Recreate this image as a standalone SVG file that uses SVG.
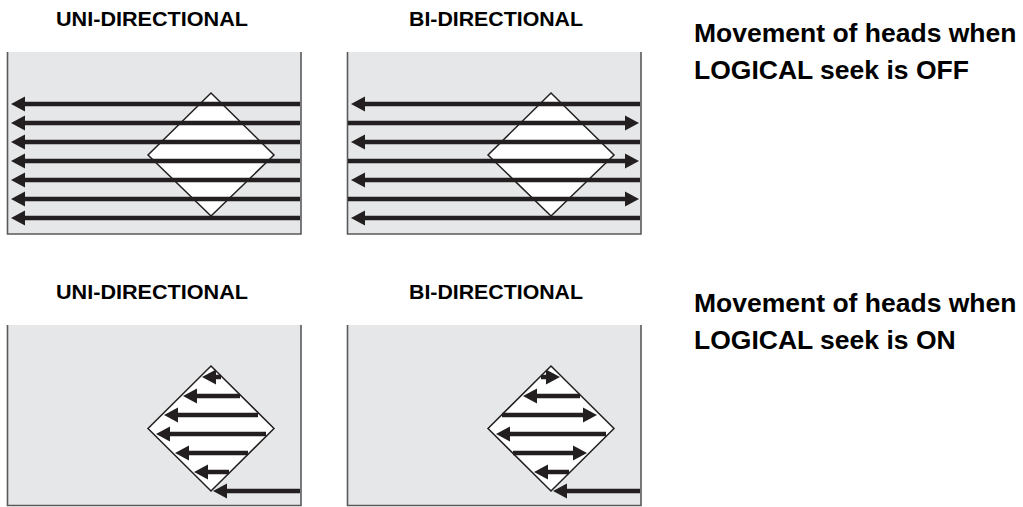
<svg xmlns="http://www.w3.org/2000/svg" width="1023" height="507" viewBox="0 0 1023 507">
<style>
.bg{fill:#e6e7e8}
.frame{fill:none;stroke:#58595b;stroke-width:1.6}
.dia{fill:#ffffff;stroke:#231f20;stroke-width:1.5;stroke-linejoin:miter}
.arr{stroke:#231f20;stroke-width:4.5;fill:none;marker-end:url(#ah)}
.lbl{font-family:"Liberation Sans",Arial,sans-serif;font-weight:bold;font-size:21px;fill:#000}
.cap{font-family:"Liberation Sans",Arial,sans-serif;font-weight:bold;font-size:26.5px;fill:#000}
</style>
<defs>
<marker id="ah" markerUnits="userSpaceOnUse" viewBox="0 0 14 15" refX="1" refY="7.5" markerWidth="14" markerHeight="15" orient="auto" overflow="visible">
<path d="M0,0 L14,7.5 L0,15 z" fill="#231f20"/>
</marker>
</defs>

<g id="label-uni-off"><text class="lbl" x="152" y="26" text-anchor="middle" textLength="192" lengthAdjust="spacingAndGlyphs">UNI-DIRECTIONAL</text></g>
<g id="label-bi-off"><text class="lbl" x="496" y="26" text-anchor="middle" textLength="174" lengthAdjust="spacingAndGlyphs">BI-DIRECTIONAL</text></g>
<g id="caption-off"><text class="cap" x="694" y="42">Movement of heads when</text><text class="cap" x="694" y="79">LOGICAL seek is OFF</text></g>

<g id="label-uni-on"><text class="lbl" x="152" y="299" text-anchor="middle" textLength="192" lengthAdjust="spacingAndGlyphs">UNI-DIRECTIONAL</text></g>
<g id="label-bi-on"><text class="lbl" x="496" y="299" text-anchor="middle" textLength="174" lengthAdjust="spacingAndGlyphs">BI-DIRECTIONAL</text></g>
<g id="caption-on"><text class="cap" x="694" y="312">Movement of heads when</text><text class="cap" x="694" y="349">LOGICAL seek is ON</text></g>

<g id="panel-uni-off">
<rect class="bg" x="7.5" y="52" width="293.5" height="182"/>
<path class="frame" d="M7.5,52 V234 H301 V52"/>
<polygon class="dia" points="211,93 274,155 211,216 148,155"/>
</g>
<g id="panel-bi-off">
<rect class="bg" x="347.5" y="52" width="293.5" height="182"/>
<path class="frame" d="M347.5,52 V234 H641 V52"/>
<polygon class="dia" points="551,93 614,155 551,216 488,155"/>
</g>
<g id="panel-uni-on">
<rect class="bg" x="7.5" y="325" width="293.5" height="181"/>
<path class="frame" d="M7.5,325 V505.5 H301 V325"/>
<polygon class="dia" points="211,366 274,428.5 211,491 148,428.5"/>
</g>
<g id="panel-bi-on">
<rect class="bg" x="347.5" y="325" width="293.5" height="181"/>
<path class="frame" d="M347.5,325 V505.5 H641 V325"/>
<polygon class="dia" points="551,366 614,428.5 551,491 488,428.5"/>
</g>

<g id="connectors">
<!-- top uni -->
<line class="arr" x1="300" y1="104" x2="24" y2="104"/>
<line class="arr" x1="300" y1="123" x2="24" y2="123"/>
<line class="arr" x1="300" y1="142" x2="24" y2="142"/>
<line class="arr" x1="300" y1="161" x2="24" y2="161"/>
<line class="arr" x1="300" y1="180" x2="24" y2="180"/>
<line class="arr" x1="300" y1="199" x2="24" y2="199"/>
<line class="arr" x1="300" y1="218" x2="24" y2="218"/>
<!-- top bi -->
<line class="arr" x1="640" y1="104" x2="364" y2="104"/>
<line class="arr" x1="348" y1="123" x2="626" y2="123"/>
<line class="arr" x1="640" y1="142" x2="364" y2="142"/>
<line class="arr" x1="348" y1="161" x2="626" y2="161"/>
<line class="arr" x1="640" y1="180" x2="364" y2="180"/>
<line class="arr" x1="348" y1="199" x2="626" y2="199"/>
<line class="arr" x1="640" y1="218" x2="364" y2="218"/>
<!-- bottom uni -->
<line class="arr" x1="221" y1="377" x2="215" y2="377"/>
<line class="arr" x1="240" y1="396" x2="196" y2="396"/>
<line class="arr" x1="258" y1="415" x2="177" y2="415"/>
<line class="arr" x1="266" y1="434" x2="169" y2="434"/>
<line class="arr" x1="248" y1="453" x2="188" y2="453"/>
<line class="arr" x1="229" y1="472" x2="207" y2="472"/>
<line class="arr" x1="300" y1="491" x2="226" y2="491"/>
<!-- bottom bi -->
<line class="arr" x1="541" y1="377" x2="547" y2="377"/>
<line class="arr" x1="580" y1="396" x2="536" y2="396"/>
<line class="arr" x1="502" y1="415" x2="584" y2="415"/>
<line class="arr" x1="606" y1="434" x2="509" y2="434"/>
<line class="arr" x1="513" y1="453" x2="574" y2="453"/>
<line class="arr" x1="569" y1="472" x2="547" y2="472"/>
<line class="arr" x1="640" y1="491" x2="566" y2="491"/>
</g>
</svg>
